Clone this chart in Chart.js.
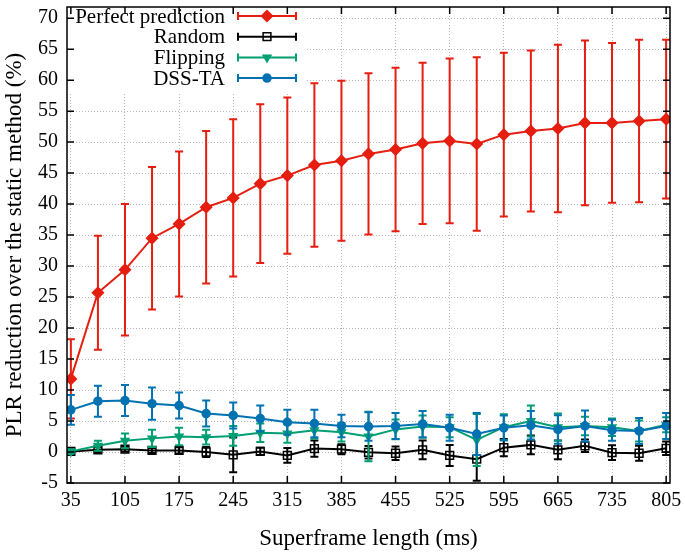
<!DOCTYPE html>
<html>
<head>
<meta charset="utf-8">
<script src="https://cdn.jsdelivr.net/npm/chart.js@4"></script>
<style>
  html, body { margin: 0; padding: 0; background: #fff; }
  #wrap { width: 685px; height: 553px; }
</style>
</head>
<body>
<div id="wrap"><canvas id="plrChart"></canvas></div>
<script>
// superframe lengths (ms)
const superframe = [35, 70, 105, 140, 175, 210, 245, 280, 315, 350, 385, 420, 455, 490, 525, 560, 595, 630, 665, 700, 735, 770, 805];
const xTicks = [35, 105, 175, 245, 315, 385, 455, 525, 595, 665, 735, 805];

// mean values and error (+/-) for each method
const perfect = [11.8, 25.7, 29.4, 34.5, 36.8, 39.5, 41.0, 43.3, 44.6, 46.3, 47.0, 48.1, 48.8, 49.8, 50.2, 49.7, 51.2, 51.8, 52.2, 53.1, 53.1, 53.4, 53.7];
const perfectErr = [6.4, 9.2, 10.6, 11.5, 11.7, 12.3, 12.7, 12.8, 12.6, 13.2, 12.9, 13.0, 13.2, 13.0, 13.3, 14.0, 13.2, 13.0, 13.5, 13.3, 12.9, 13.1, 12.8];

const random = [0.1, 0.35, 0.45, 0.25, 0.25, 0.0, -0.45, 0.1, -0.55, 0.55, 0.45, -0.05, -0.2, 0.35, -0.55, -1.15, 0.7, 1.15, 0.35, 1.0, -0.1, -0.2, 0.6];
const randomErr = [0.3, 0.4, 0.4, 0.4, 0.5, 0.8, 2.8, 0.6, 1.2, 1.3, 0.8, 1.0, 1.1, 1.5, 1.7, 3.5, 1.4, 1.5, 1.5, 1.0, 1.2, 1.2, 1.1];

const flipping = [0.1, 1.0, 1.8, 2.2, 2.5, 2.4, 2.6, 3.1, 3.0, 3.5, 3.2, 2.5, 3.65, 4.1, 4.0, 1.95, 4.0, 5.0, 4.0, 4.2, 4.0, 3.4, 4.4];
const flippingErr = [0.3, 0.8, 1.2, 1.4, 1.4, 1.2, 1.6, 1.5, 1.5, 1.3, 1.5, 4.0, 1.6, 1.8, 1.6, 4.2, 2.1, 2.5, 2.2, 1.5, 1.4, 1.7, 1.2];

const dssta = [6.8, 8.2, 8.3, 7.8, 7.5, 6.2, 5.9, 5.4, 4.8, 4.6, 4.2, 4.1, 4.2, 4.5, 3.9, 2.9, 3.9, 4.3, 3.65, 4.2, 3.5, 3.4, 4.2];
const dsstaErr = [2.4, 2.5, 2.5, 2.6, 2.1, 2.1, 2.1, 2.1, 2.0, 2.2, 1.8, 2.3, 2.1, 2.1, 2.1, 3.4, 2.0, 2.3, 2.3, 2.5, 1.7, 2.1, 2.1];

const FONT = '"Liberation Serif", "DejaVu Serif", serif';

function pts(ys) {
    return superframe.map((x, i) => ({ x: x, y: ys[i] }));
}

function makeSet(label, ys, errs, color, style, radius, order, extra) {
    return Object.assign({
        label: label,
        data: pts(ys),
        errors: errs,
        showLine: true,
        borderColor: color,
        backgroundColor: color,
        borderWidth: 2,
        pointStyle: style,
        pointRadius: radius,
        pointHoverRadius: radius,
        pointBorderColor: color,
        pointBackgroundColor: color,
        pointBorderWidth: 1.5,
        order: order
    }, extra || {});
}

// draws error bars, inward ticks, frame and gnuplot-like key
const gnuplotLook = {
    id: 'gnuplotLook',
    beforeDatasetsDraw(chart) {
        const ctx = chart.ctx;
        const a = chart.chartArea;
        ctx.save();
        ctx.fillStyle = '#fff';
        ctx.fillRect(a.left, a.top, 240, 86);
        ctx.restore();
    },
    beforeDatasetDraw(chart, args) {
        const ds = chart.data.datasets[args.index];
        if (!ds.errors) return;
        const xs = chart.scales.x, ys = chart.scales.y;
        const ctx = chart.ctx;
        ctx.save();
        ctx.beginPath();
        ctx.rect(chart.chartArea.left, chart.chartArea.top, chart.chartArea.width, chart.chartArea.height);
        ctx.clip();
        ctx.strokeStyle = ds.borderColor;
        ctx.lineWidth = 2;
        ds.data.forEach((p, i) => {
            const px = xs.getPixelForValue(p.x);
            const top = ys.getPixelForValue(p.y + ds.errors[i]);
            const bot = ys.getPixelForValue(p.y - ds.errors[i]);
            ctx.beginPath();
            ctx.moveTo(px, top); ctx.lineTo(px, bot);
            ctx.moveTo(px - 4, top); ctx.lineTo(px + 4, top);
            ctx.moveTo(px - 4, bot); ctx.lineTo(px + 4, bot);
            ctx.stroke();
        });
        ctx.restore();
    },
    afterDraw(chart) {
        const ctx = chart.ctx;
        const a = chart.chartArea;
        const xs = chart.scales.x, ys = chart.scales.y;
        ctx.save();
        ctx.strokeStyle = '#000';
        ctx.lineWidth = 1.5;
        ctx.strokeRect(a.left, a.top, a.width, a.height);
        ctx.beginPath();
        const tl = 7;
        xTicks.forEach(v => {
            const px = xs.getPixelForValue(v);
            ctx.moveTo(px, a.bottom); ctx.lineTo(px, a.bottom - tl);
            ctx.moveTo(px, a.top); ctx.lineTo(px, a.top + tl);
        });
        ys.ticks.forEach(t => {
            const py = ys.getPixelForValue(t.value);
            ctx.moveTo(a.left, py); ctx.lineTo(a.left + tl, py);
            ctx.moveTo(a.right, py); ctx.lineTo(a.right - tl, py);
        });
        ctx.stroke();

        // key
        ctx.font = '21px ' + FONT;
        ctx.textAlign = 'right';
        ctx.textBaseline = 'middle';
        [0, 1, 2, 3].forEach((idx, row) => {
            const ds = chart.data.datasets[idx];
            const o = chart.getDatasetMeta(idx).data[0].options;
            const y = 16 + row * 20.7;
            ctx.fillStyle = '#000';
            ctx.fillText(ds.label, 225, y + 1);
            ctx.strokeStyle = ds.borderColor;
            ctx.lineWidth = 2;
            ctx.beginPath();
            ctx.moveTo(238, y); ctx.lineTo(296, y);
            ctx.moveTo(238, y - 4); ctx.lineTo(238, y + 4);
            ctx.moveTo(296, y - 4); ctx.lineTo(296, y + 4);
            ctx.stroke();
            ctx.fillStyle = o.backgroundColor;
            ctx.strokeStyle = o.borderColor;
            ctx.lineWidth = o.borderWidth;
            Chart.helpers.drawPoint(ctx, {
                pointStyle: o.pointStyle, rotation: o.rotation,
                radius: o.radius, borderWidth: o.borderWidth
            }, 267, y);
        });
        ctx.restore();
    }
};

const ctxPlr = document.getElementById('plrChart').getContext('2d');
new Chart(ctxPlr, {
    type: 'scatter',
    data: {
        datasets: [
            makeSet('Perfect prediction', perfect, perfectErr, '#e51e10', 'rectRot', 5.5, 4),
            makeSet('Random', random, randomErr, '#000000', 'rect', 5.5, 3, { pointBackgroundColor: 'rgba(0,0,0,0)' }),
            makeSet('Flipping', flipping, flippingErr, '#009e73', 'triangle', 4.5, 2, { pointRotation: 180 }),
            makeSet('DSS-TA', dssta, dsstaErr, '#0072b2', 'circle', 4, 1)
        ]
    },
    options: {
        responsive: true,
        maintainAspectRatio: false,
        animation: false,
        layout: { padding: { top: 2, right: 15, left: 0, bottom: 0 } },
        plugins: {
            legend: { display: false },
            tooltip: { enabled: false }
        },
        scales: {
            x: {
                type: 'linear',
                min: 30,
                max: 810,
                afterBuildTicks(scale) {
                    scale.ticks = xTicks.map(v => ({ value: v }));
                },
                afterFit(scale) {
                    scale.height = 70;
                    scale.paddingLeft = 0;
                    scale.paddingRight = 0;
                },
                grid: {
                    color: '#b8b8b8',
                    lineWidth: 1,
                    drawTicks: false
                },
                border: { display: false, dash: [1, 2] },
                ticks: {
                    color: '#000',
                    font: { family: FONT, size: 20 },
                    padding: 6,
                    maxRotation: 0,
                    autoSkip: false
                },
                title: {
                    display: true,
                    text: 'Superframe length (ms)',
                    color: '#000',
                    font: { family: FONT, size: 23 },
                    padding: { top: 0, bottom: 0 }
                }
            },
            y: {
                min: -5,
                max: 71.8,
                afterFit(scale) {
                    scale.width = 67;
                    scale.paddingTop = 0;
                    scale.paddingBottom = 0;
                },
                grid: {
                    color: '#b8b8b8',
                    lineWidth: 1,
                    drawTicks: false
                },
                border: { display: false, dash: [1, 2] },
                ticks: {
                    stepSize: 5,
                    includeBounds: false,
                    color: '#000',
                    font: { family: FONT, size: 20 },
                    padding: 9
                },
                title: {
                    display: true,
                    text: 'PLR reduction over the static method (%)',
                    color: '#000',
                    font: { family: FONT, size: 23 },
                    padding: { top: 1, bottom: 0 }
                }
            }
        }
    },
    plugins: [gnuplotLook]
});
</script>
</body>
</html>
